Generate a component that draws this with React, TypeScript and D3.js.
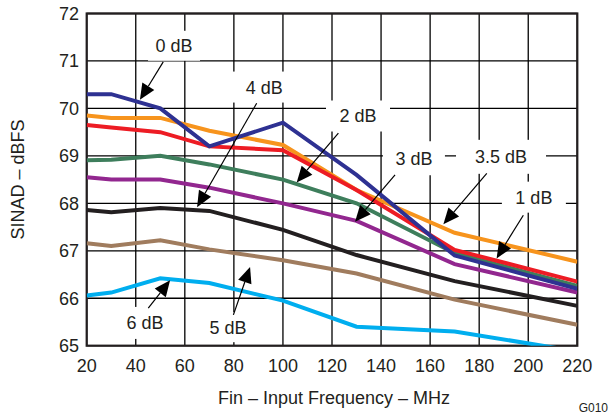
import React from "react";
import * as d3 from "d3";

const freqs = [20, 30, 50, 70, 100, 130, 170, 220];
const db0 = [70.3, 70.3, 70.0, 69.2, 69.7, 68.6, 66.9, 66.2];
const db1 = [69.65, 69.6, 69.5, 69.2, 69.12, 68.28, 67.02, 66.35];
const db2 = [68.91, 68.92, 69.0, 68.82, 68.5, 68.0, 66.95, 66.26];
const db3 = [68.55, 68.5, 68.5, 68.33, 68.0, 67.63, 66.72, 66.12];
const db35 = [69.85, 69.8, 69.8, 69.53, 69.23, 68.28, 67.38, 66.77];
const db4 = [67.86, 67.81, 67.9, 67.84, 67.44, 66.91, 66.36, 65.84];
const db5 = [67.16, 67.1, 67.22, 67.03, 66.8, 66.52, 65.97, 65.44];
const db6 = [66.06, 66.12, 66.42, 66.32, 65.95, 65.4, 65.3, 64.88];

const xTicks = [20, 40, 60, 80, 100, 120, 140, 160, 180, 200, 220];
const yTicks = [65, 66, 67, 68, 69, 70, 71, 72];

const series = [
  { name: "6 dB", values: db6, color: "#00AEEF" },
  { name: "5 dB", values: db5, color: "#A07C5E" },
  { name: "4 dB", values: db4, color: "#231F20" },
  { name: "3 dB", values: db3, color: "#92278F" },
  { name: "2 dB", values: db2, color: "#3E7E5C" },
  { name: "3.5 dB", values: db35, color: "#F7941D" },
  { name: "1 dB", values: db1, color: "#ED1C24" },
  { name: "0 dB", values: db0, color: "#2E3192" },
];

// annotation anchors in data units (text centre, arrow start, arrow tip), box size in px
const notes = [
  { text: "0 dB", tx: 55.6, ty: 71.32, sx: 51.2, sy: 70.98, ex: 41.7, ey: 70.18, bw: 52, bh: 30 },
  { text: "4 dB", tx: 92.4, ty: 70.45, sx: 89.3, sy: 70.11, ex: 65.0, ey: 67.92, bw: 68, bh: 31 },
  { text: "2 dB", tx: 130.6, ty: 69.84, sx: 122.6, sy: 69.48, ex: 105.6, ey: 68.44, bw: 64, bh: 31 },
  { text: "3 dB", tx: 153.4, ty: 68.95, sx: 145.7, sy: 68.6, ex: 129.4, ey: 67.61, bw: 62, bh: 34 },
  { text: "3.5 dB", tx: 188.9, ty: 68.98, sx: 183.1, sy: 68.63, ex: 165.4, ey: 67.56, bw: 90, bh: 34 },
  { text: "1 dB", tx: 202.3, ty: 68.13, sx: 198.0, sy: 67.75, ex: 187.1, ey: 66.84, bw: 64, bh: 31 },
  { text: "5 dB", tx: 77.6, ty: 65.39, sx: 79.8, sy: 65.65, ex: 86.6, ey: 66.66, bw: 50, bh: 30 },
  { text: "6 dB", tx: 43.8, ty: 65.48, sx: 45.1, sy: 65.79, ex: 54.0, ey: 66.38, bw: 55, bh: 32 },
];

const W = 610;
const H = 414;
const L = 86.7;
const R = 577.3;
const T = 13.5;
const B = 345.7;
const FONT = "Arial, 'Liberation Sans', Helvetica, sans-serif";
const FS = 18;

export default function App() {
  const x = d3.scaleLinear().domain([20, 220]).range([L, R]);
  const y = d3.scaleLinear().domain([65, 72]).range([B, T]);
  const line = d3
    .line<number>()
    .x((_, i) => x(freqs[i]))
    .y((v) => y(v));

  const arrows = notes.map((n) => {
    const x0 = x(n.sx), y0 = y(n.sy), x1 = x(n.ex), y1 = y(n.ey);
    const dx = x1 - x0, dy = y1 - y0;
    const len = Math.hypot(dx, dy);
    const ux = dx / len, uy = dy / len;
    const hl = 16, hw = 7;
    const bx = x1 - ux * hl, by = y1 - uy * hl;
    const p1 = [bx - uy * hw, by + ux * hw];
    const p2 = [bx + uy * hw, by - ux * hw];
    return { x0, y0, bx, by, head: `M${x1},${y1}L${p1[0]},${p1[1]}L${p2[0]},${p2[1]}Z` };
  });

  return (
    <svg
      width={W}
      height={H}
      style={{ position: "absolute", left: 0, top: 0, background: "#fff" }}
      fontFamily={FONT}
    >
      <defs>
        <clipPath id="plot">
          <rect x={L} y={T} width={R - L} height={B - T} />
        </clipPath>
      </defs>
      {/* grid */}
      {xTicks.map((t) => (
        <line key={"gx" + t} x1={x(t)} x2={x(t)} y1={T} y2={B} stroke="#000" strokeWidth={1.3} />
      ))}
      {yTicks.map((t) => (
        <line key={"gy" + t} x1={L} x2={R} y1={y(t)} y2={y(t)} stroke="#000" strokeWidth={1.3} />
      ))}
      {/* label boxes hiding grid */}
      {notes.map((n) => (
        <rect
          key={"b" + n.text}
          x={x(n.tx) - n.bw / 2}
          y={y(n.ty) - n.bh / 2}
          width={n.bw}
          height={n.bh}
          fill="#fff"
        />
      ))}
      <rect x={L} y={T} width={R - L} height={B - T} fill="none" stroke="#231F20" strokeWidth={2.2} />
      {/* series */}
      <g clipPath="url(#plot)">
        {series.map((s) => (
          <path
            key={s.name}
            d={line(s.values) || ""}
            fill="none"
            stroke={s.color}
            strokeWidth={4}
            strokeLinejoin="miter"
          />
        ))}
      </g>
      {/* arrows */}
      {arrows.map((a, i) => (
        <g key={"a" + i}>
          <line x1={a.x0} y1={a.y0} x2={a.bx} y2={a.by} stroke="#000" strokeWidth={1.2} />
          <path d={a.head} fill="#000" />
        </g>
      ))}
      {notes.map((n) => (
        <text
          key={"t" + n.text}
          x={x(n.tx)}
          y={y(n.ty)}
          dy="0.36em"
          textAnchor="middle"
          fontSize={FS}
          fill="#231F20"
        >
          {n.text}
        </text>
      ))}
      {/* axes labels */}
      {yTicks.map((t) => (
        <text key={"ty" + t} x={79} y={y(t)} dy="0.36em" textAnchor="end" fontSize={FS} fill="#231F20">
          {t}
        </text>
      ))}
      {xTicks.map((t) => (
        <text key={"tx" + t} x={x(t)} y={366} dy="0.36em" textAnchor="middle" fontSize={FS} fill="#231F20">
          {t}
        </text>
      ))}
      <text x={334} y={398} dy="0.36em" textAnchor="middle" fontSize={FS} fill="#231F20">
        Fin – Input Frequency – MHz
      </text>
      <text
        transform={`translate(18,${(T + B) / 2}) rotate(-90)`}
        dy="0.36em"
        textAnchor="middle"
        fontSize={FS}
        fill="#231F20"
      >
        SINAD – dBFS
      </text>
      <text x={608} y={408} dy="0.36em" textAnchor="end" fontSize={12} fill="#231F20">
        G010
      </text>
    </svg>
  );
}
